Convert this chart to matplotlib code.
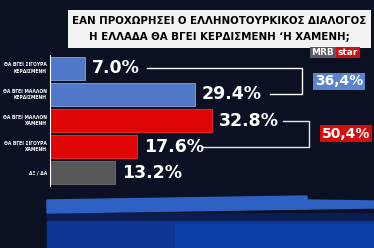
import matplotlib.pyplot as plt
from matplotlib.patches import Rectangle, Polygon

# data
labels = [("ΘΑ ΒΓΕΙ ΣΙΓΟΥΡΑ", "ΚΕΡΔΙΣΜΕΝΗ"),
          ("ΘΑ ΒΓΕΙ ΜΑΛΛΟΝ", "ΚΕΡΔΙΣΜΕΝΗ"),
          ("ΘΑ ΒΓΕΙ ΜΑΛΛΟΝ", "ΧΑΜΕΝΗ"),
          ("ΘΑ ΒΓΕΙ ΣΙΓΟΥΡΑ", "ΧΑΜΕΝΗ"),
          ("ΔΞ / ΔΑ", "")]
values = [7.0, 29.4, 32.8, 17.6, 13.2]
colors = ["#5078c8", "#5078c8", "#e00606", "#e00606", "#575757"]
edges = ["#86a4e0", "#86a4e0", "#ff3030", "#ff3030", "#707070"]
title_lines = ["ΕΑΝ ΠΡΟΧΩΡΗΣΕΙ Ο ΕΛΛΗΝΟΤΟΥΡΚΙΚΟΣ ΔΙΑΛΟΓΟΣ",
               "Η ΕΛΛΑΔΑ ΘΑ ΒΓΕΙ ΚΕΡΔΙΣΜΕΝΗ ‘Η ΧΑΜΕΝΗ;"]

W, H = 374, 248
bg = "#0b1022"
font = "DejaVu Sans"

fig = plt.figure(figsize=(W / 100, H / 100), dpi=100, facecolor=bg)

# background / decoration layer in pixel coords
deco = fig.add_axes([0, 0, 1, 1])
deco.set_xlim(0, W)
deco.set_ylim(H, 0)
deco.axis("off")
deco.add_patch(Rectangle((47, 213), W - 47, 35, color="#0a1c50", zorder=0))
deco.add_patch(Rectangle((47, 221), W - 47, 27, color="#0c3592", zorder=0))
deco.add_patch(Rectangle((175, 224), W - 175, 24, color="#0f40a8", zorder=0))
deco.add_patch(Polygon([(47, 200), (307, 196), (307, 200), (W, 201), (W, 208), (47, 213)],
                       closed=True, color="#2d62c4", zorder=1))

# title box
deco.add_patch(Rectangle((68, 10), 303, 38, facecolor="#f2f2f2", edgecolor="none", zorder=2))
for yy, line in zip([21, 37], title_lines):
    deco.text(219, yy, line, ha="center", va="center", fontsize=8.2, fontweight="bold",
              fontstretch="condensed", color="black", family=font, zorder=3)

# logo
deco.text(323, 52.5, "MRB", ha="center", va="center", fontsize=6.5, fontweight="bold",
          color="white", family=font,
          bbox=dict(boxstyle="square,pad=0.15", fc="#5a5a64", ec="none"))
deco.text(348, 52.5, "star", ha="center", va="center", fontsize=6.5, fontweight="bold",
          color="white", family=font,
          bbox=dict(boxstyle="square,pad=0.15", fc="#d01010", ec="none"))

# bars
px_per_pct = 4.93
ax = fig.add_axes([50 / W, 1 - 186 / H, 320 / W, 131 / H])
ax.set_facecolor("none")
ax.set_xlim(0, 320 / px_per_pct)
ax.set_ylim(4.5, -0.5)
ys = list(range(len(values)))
ax.barh(ys, values, height=0.88, color=colors, edgecolor=edges, linewidth=0.6)
for s in ["top", "right", "bottom"]:
    ax.spines[s].set_visible(False)
ax.spines["left"].set_color("white")
ax.spines["left"].set_linewidth(0.8)
ax.set_xticks([])
ax.set_yticks([])

for y, v, (l1, l2) in zip(ys, values, labels):
    ax.annotate(f"{v:.1f}%", (v, y), xytext=(5, 0), textcoords="offset points",
                ha="left", va="center", fontsize=12.5, fontweight="bold",
                color="white", family=font)
    txt = l1 if not l2 else l1 + "\n" + l2
    ax.annotate(txt, (0, y), xytext=(-2.2, 0), textcoords="offset points",
                ha="right", va="center", fontsize=3.6, fontweight="bold",
                fontstretch="condensed", color="white", family=font, linespacing=1.35)

# brackets
lw = 1.0
ax.plot([19.7, 51.1, 51.1, 44.6], [0, 0, 1, 1], color="white", lw=lw, clip_on=False)
ax.plot([47.3, 52.5, 52.5, 31.0], [2, 2, 3, 3], color="#e8e8e8", lw=lw, clip_on=False)

# sums
win = values[0] + values[1]
lose = values[2] + values[3]
ax.text(58.6, 0.5, f"{win:.1f}%".replace(".", ","), ha="center", va="center",
        fontsize=10, fontweight="bold", color="white", family=font,
        bbox=dict(boxstyle="square,pad=0.12", fc="#5b82cc", ec="none"))
ax.text(60.0, 2.5, f"{lose:.1f}%".replace(".", ","), ha="center", va="center",
        fontsize=10, fontweight="bold", color="white", family=font,
        bbox=dict(boxstyle="square,pad=0.12", fc="#d80a0a", ec="none"))

fig.savefig("out.png", dpi=100, facecolor=bg)
